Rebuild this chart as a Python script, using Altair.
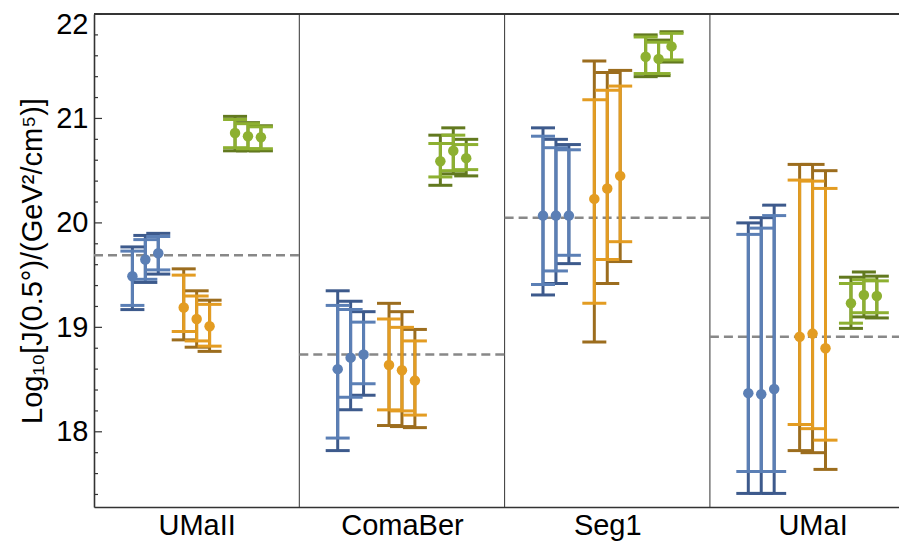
import altair as alt
import pandas as pd

categories = ["UMaII", "ComaBer", "Seg1", "UMaI"]
series = ["blue", "orange", "green"]
light_colors = ["#5b7fb5", "#e39c22", "#8db031"]
dark_colors = ["#3d5a8c", "#9c6d1e", "#62791f"]

# values per category, ordered blue x3, orange x3, green x3
umaii_mid = [19.49, 19.65, 19.71, 19.19, 19.08, 19.01, 20.86, 20.83, 20.82]
umaii_in_hi = [19.73, 19.84, 19.87, 19.50, 19.30, 19.22, 20.99, 20.95, 20.92]
umaii_out_hi = [19.77, 19.88, 19.90, 19.56, 19.35, 19.26, 21.02, 20.96, 20.93]
umaii_in_lo = [19.21, 19.46, 19.55, 18.96, 18.87, 18.82, 20.72, 20.71, 20.71]
umaii_out_lo = [19.17, 19.43, 19.51, 18.88, 18.81, 18.77, 20.69, 20.69, 20.69]

comaber_mid = [18.60, 18.71, 18.74, 18.64, 18.59, 18.49, 20.59, 20.69, 20.62]
comaber_in_hi = [19.21, 19.17, 19.05, 19.08, 19.00, 18.87, 20.76, 20.84, 20.75]
comaber_out_hi = [19.35, 19.25, 19.15, 19.23, 19.15, 18.98, 20.84, 20.91, 20.80]
comaber_in_lo = [17.94, 18.33, 18.46, 18.21, 18.20, 18.16, 20.44, 20.50, 20.51]
comaber_out_lo = [17.82, 18.21, 18.35, 18.06, 18.05, 18.04, 20.36, 20.47, 20.45]

seg1_mid = [20.07, 20.07, 20.07, 20.23, 20.33, 20.45, 21.59, 21.57, 21.69]
seg1_in_hi = [20.83, 20.72, 20.70, 21.18, 21.27, 21.31, 21.78, 21.73, 21.815]
seg1_out_hi = [20.91, 20.80, 20.75, 21.55, 21.44, 21.46, 21.80, 21.75, 21.83]
seg1_in_lo = [19.41, 19.54, 19.69, 19.23, 19.65, 19.82, 21.43, 21.43, 21.56]
seg1_out_lo = [19.31, 19.42, 19.61, 18.86, 19.42, 19.63, 21.40, 21.41, 21.54]

umai_mid = [18.37, 18.36, 18.41, 18.91, 18.94, 18.80, 19.23, 19.31, 19.30]
umai_in_hi = [19.89, 19.95, 20.07, 20.41, 20.40, 20.33, 19.42, 19.455, 19.445]
umai_out_hi = [20.00, 20.05, 20.17, 20.56, 20.56, 20.50, 19.48, 19.53, 19.49]
umai_in_lo = [17.62, 17.62, 17.62, 18.07, 18.03, 17.92, 19.04, 19.14, 19.14]
umai_out_lo = [17.41, 17.41, 17.41, 17.82, 17.80, 17.64, 18.99, 19.10, 19.09]

reference_levels = [19.69, 18.74, 20.05, 18.91]

major_ticks = [18, 19, 20, 21, 22]
minor_ticks = [17.4, 17.6, 17.8, 18.2, 18.4, 18.6, 18.8, 19.2, 19.4, 19.6, 19.8,
               20.2, 20.4, 20.6, 20.8, 21.2, 21.4, 21.6, 21.8]

group_offsets = [-0.25, 0.0, 0.25]
sub_offsets = [-0.063, 0.0, 0.063]

Y_MIN, Y_MAX = 17.28, 22.0
X_MAX = 3.921
W, H = 805, 493

per_cat = [
    (umaii_mid, umaii_in_lo, umaii_in_hi, umaii_out_lo, umaii_out_hi),
    (comaber_mid, comaber_in_lo, comaber_in_hi, comaber_out_lo, comaber_out_hi),
    (seg1_mid, seg1_in_lo, seg1_in_hi, seg1_out_lo, seg1_out_hi),
    (umai_mid, umai_in_lo, umai_in_hi, umai_out_lo, umai_out_hi),
]

rows = []
for ci, (mid, ilo, ihi, olo, ohi) in enumerate(per_cat):
    for k in range(9):
        g, s = divmod(k, 3)
        rows.append({
            "x": ci + 0.5 + group_offsets[g] + sub_offsets[s],
            "mid": mid[k], "ilo": ilo[k], "ihi": ihi[k],
            "olo": olo[k], "ohi": ohi[k],
            "light": light_colors[g], "dark": dark_colors[g],
        })
df = pd.DataFrame(rows)

ref_df = pd.DataFrame({
    "x0": [i for i in range(len(categories))],
    "x1": [i + 1 for i in range(len(categories))],
    "y": reference_levels,
})
sep_df = pd.DataFrame({"x": [1, 2, 3]})
major_df = pd.DataFrame({"y": major_ticks})
minor_df = pd.DataFrame({"y": minor_ticks})

label_array = "[" + ",".join("'%s'" % c for c in categories) + "]"

xscale = alt.Scale(domain=[0, X_MAX], nice=False, zero=False)
yscale = alt.Scale(domain=[Y_MIN, Y_MAX], nice=False, zero=False)

x_axis = alt.Axis(values=[0.5, 1.5, 2.5, 3.5], labelExpr=label_array + "[floor(datum.value)]",
                  ticks=False, grid=False, title=None, labelFontSize=29, labelPadding=4,
                  domainColor="#333333", domainWidth=1.6, labelColor="black")
y_axis = alt.Axis(values=major_ticks, format="d", ticks=False, grid=False,
                  title="Log₁₀[J(0.5°)/(GeV²/cm⁵)]", titleFontSize=29,
                  titleFontWeight="normal", titleColor="black", titlePadding=8,
                  labelFontSize=29, labelPadding=6, labelColor="black",
                  labelFlush=True, labelFlushOffset=4,
                  domainColor="#333333", domainWidth=1.6)

base = alt.Chart(df)

frame_x = alt.Chart(df).mark_point(opacity=0).encode(
    x=alt.X("x:Q", scale=xscale, axis=x_axis),
    y=alt.Y("mid:Q", scale=yscale, axis=y_axis),
)

seps = alt.Chart(sep_df).mark_rule(color="#333333", strokeWidth=1).encode(
    x=alt.X("x:Q", scale=xscale), y=alt.value(0), y2=alt.value(H))

refs = alt.Chart(ref_df).mark_rule(color="#888888", strokeWidth=2.5,
                                   strokeDash=[9, 5], clip=True).encode(
    x=alt.X("x0:Q", scale=xscale), x2="x1:Q", y=alt.Y("y:Q", scale=yscale))

top_line = alt.Chart(sep_df).mark_rule(color="#333333", strokeWidth=1.6).encode(
    x=alt.value(0), x2=alt.value(W), y=alt.value(0))

major = alt.Chart(major_df).mark_rule(color="#333333", strokeWidth=1.2).encode(
    x=alt.value(0), x2=alt.value(8), y=alt.Y("y:Q", scale=yscale))
minor = alt.Chart(minor_df).mark_rule(color="#333333", strokeWidth=1.2).encode(
    x=alt.value(0), x2=alt.value(4), y=alt.Y("y:Q", scale=yscale))

outer_rule = base.mark_rule(strokeWidth=3).encode(
    x=alt.X("x:Q", scale=xscale), y=alt.Y("olo:Q", scale=yscale), y2="ohi:Q",
    color=alt.Color("dark:N", scale=None))
outer_lo_cap = base.mark_tick(orient="horizontal", size=24, thickness=3, opacity=1).encode(
    x=alt.X("x:Q", scale=xscale), y=alt.Y("olo:Q", scale=yscale),
    color=alt.Color("dark:N", scale=None))
outer_hi_cap = base.mark_tick(orient="horizontal", size=24, thickness=3, opacity=1).encode(
    x=alt.X("x:Q", scale=xscale), y=alt.Y("ohi:Q", scale=yscale),
    color=alt.Color("dark:N", scale=None))
inner_rule = base.mark_rule(strokeWidth=3).encode(
    x=alt.X("x:Q", scale=xscale), y=alt.Y("ilo:Q", scale=yscale), y2="ihi:Q",
    color=alt.Color("light:N", scale=None))
inner_lo_cap = base.mark_tick(orient="horizontal", size=24, thickness=3, opacity=1).encode(
    x=alt.X("x:Q", scale=xscale), y=alt.Y("ilo:Q", scale=yscale),
    color=alt.Color("light:N", scale=None))
inner_hi_cap = base.mark_tick(orient="horizontal", size=24, thickness=3, opacity=1).encode(
    x=alt.X("x:Q", scale=xscale), y=alt.Y("ihi:Q", scale=yscale),
    color=alt.Color("light:N", scale=None))
points = base.mark_circle(size=110, opacity=1).encode(
    x=alt.X("x:Q", scale=xscale), y=alt.Y("mid:Q", scale=yscale),
    color=alt.Color("light:N", scale=None))

chart = alt.layer(
    frame_x, seps, refs, top_line, major, minor,
    outer_rule, outer_lo_cap, outer_hi_cap,
    inner_rule, inner_lo_cap, inner_hi_cap, points,
).properties(
    width=W, height=H,
    autosize=alt.AutoSizeParams(type="none"),
    padding={"left": 86, "top": 6, "right": 0, "bottom": 40},
).configure_view(stroke=None).configure(font="Liberation Sans")

chart.save("out.html", embed_options={"renderer": "svg", "actions": False})
